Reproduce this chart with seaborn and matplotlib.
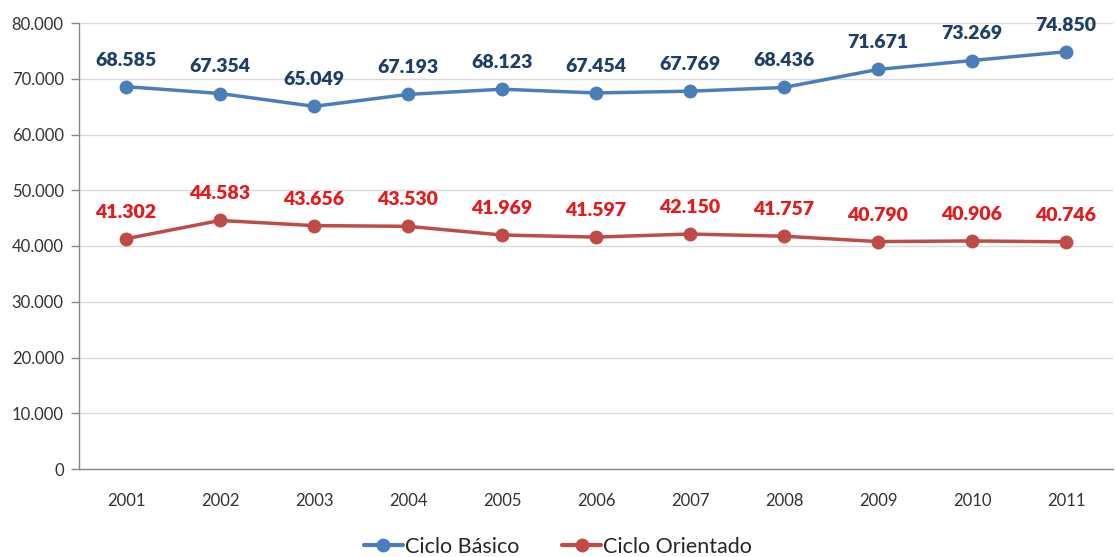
import matplotlib
matplotlib.use("Agg")
import matplotlib.pyplot as plt
import seaborn as sns
import pandas as pd
from matplotlib.ticker import FuncFormatter, FixedLocator
from matplotlib.lines import Line2D

years = ["2001", "2002", "2003", "2004", "2005", "2006", "2007", "2008", "2009", "2010", "2011"]
basico = [68585, 67354, 65049, 67193, 68123, 67454, 67769, 68436, 71671, 73269, 74850]
orientado = [41302, 44583, 43656, 43530, 41969, 41597, 42150, 41757, 40790, 40906, 40746]
series_names = ["Ciclo Básico", "Ciclo Orientado"]
yticks = [0, 10000, 20000, 30000, 40000, 50000, 60000, 70000, 80000]

line_colors = ["#4A7EBB", "#BE4B48"]
label_colors = ["#1F3E66", "#E41A1C"]

sns.set_theme(style="white")
plt.rcParams['font.family'] = ['Lato', 'DejaVu Sans']

rows = []
for name, vals in zip(series_names, [basico, orientado]):
    for i, (y, v) in enumerate(zip(years, vals)):
        rows.append({"idx": i, "year": y, "value": v, "serie": name})
df = pd.DataFrame(rows)

fig = plt.figure(figsize=(11.16, 5.57), dpi=100)
ax = fig.add_axes([79/1116, 88/557, 1034/1116, 446/557])

sns.lineplot(data=df, x="idx", y="value", hue="serie", palette=line_colors,
             marker="o", markersize=10, markeredgewidth=0, linewidth=2.5,
             ax=ax, legend=False)

for vals, col in zip([basico, orientado], label_colors):
    for i, v in enumerate(vals):
        ax.annotate(f"{v/1000:.3f}", (i, v), xytext=(0, 13), textcoords="offset points",
                    ha="center", va="bottom", fontsize=14, fontweight="heavy", color=col)

ax.set_xlim(-0.5, len(years) - 0.5)
ax.set_ylim(0, 80000)
ax.yaxis.set_major_locator(FixedLocator(yticks))
ax.yaxis.set_major_formatter(FuncFormatter(lambda v, p: "0" if v == 0 else f"{int(v/1000)}.000"))
ax.set_xticks(range(len(years)))
ax.set_xticklabels(years)
ax.set_xticks([i - 0.5 for i in range(len(years) + 1)], minor=True)
ax.tick_params(axis="x", which="major", length=0, pad=17, labelsize=12, colors="#333333")
ax.tick_params(axis="x", which="minor", length=6, width=1, color="#888888", direction="out")
ax.tick_params(axis="y", which="major", length=6, width=1, color="#888888", direction="out",
               left=True, labelsize=12, colors="#333333", pad=5)
ax.set_xlabel("")
ax.set_ylabel("")
ax.grid(axis="y", color="#D9D9D9", linewidth=1)
ax.set_axisbelow(True)
for s in ["top", "right"]:
    ax.spines[s].set_visible(False)
for s in ["left", "bottom"]:
    ax.spines[s].set_color("#888888")
    ax.spines[s].set_linewidth(1)

handles = [Line2D([0], [0], color=c, lw=3, marker="o", markersize=10, markeredgewidth=0)
           for c in line_colors]
fig.legend(handles, series_names, loc="center", bbox_to_anchor=(0.5, 1 - 547/557),
           ncol=2, frameon=False, fontsize=15.5, handlelength=1.8, handletextpad=0.1,
           columnspacing=2.0, borderpad=0)

fig.savefig("out.png", dpi=100)
